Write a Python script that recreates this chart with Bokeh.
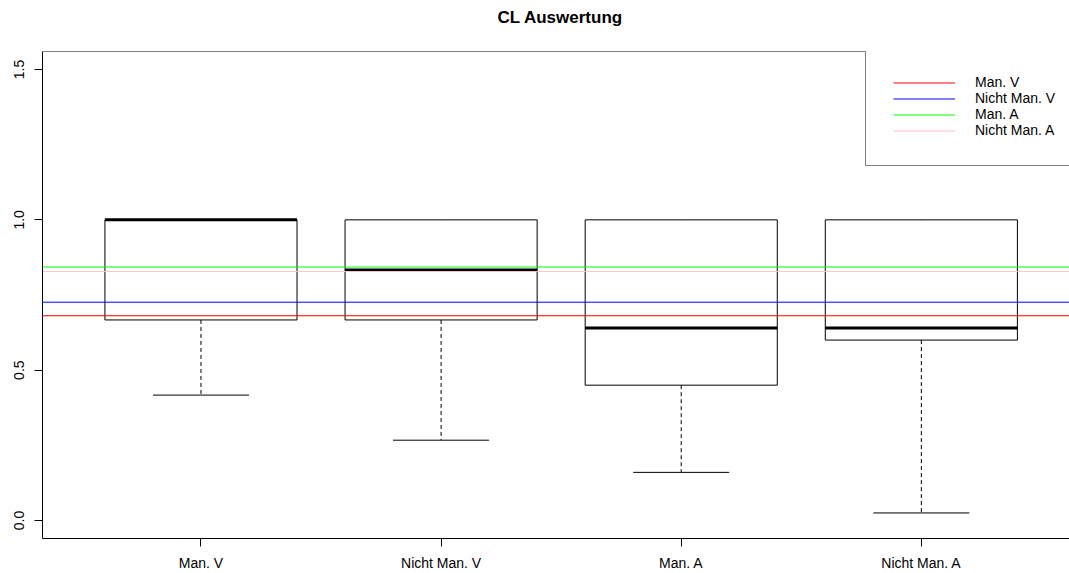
from bokeh.plotting import figure
from bokeh.models import FixedTicker, Span, Legend, LegendItem, NumeralTickFormatter, Title
from bokeh.embed import file_html
from bokeh.resources import INLINE

# ---- data ----
categories = ["Man. V", "Nicht Man. V", "Man. A", "Nicht Man. A"]
lower_whisker = [0.417, 0.267, 0.16, 0.025]
q1 = [0.667, 0.667, 0.45, 0.60]
median = [1.0, 0.833, 0.64, 0.64]
q3 = [1.0, 1.0, 1.0, 1.0]
upper_whisker = [1.0, 1.0, 1.0, 1.0]
mean_values = [0.681, 0.726, 0.843, 0.828]
mean_colors = ["#FF0000", "#0000FF", "#00FF00", "#FFC0CB"]
y_ticks = [0.0, 0.5, 1.0, 1.5]
title_text = "CL Auswertung"

FONT = "Liberation Sans"
X_START, X_END = 0.34, 4.617
pos = list(range(1, len(categories) + 1))
box_half = 0.4
cap_half = 0.2

p = figure(width=1069, height=573,
           x_range=(X_START, X_END), y_range=(-0.06, 1.56),
           output_backend="svg", toolbar_location=None,
           min_border_left=42, min_border_right=0,
           min_border_top=51, min_border_bottom=35)

p.xgrid.visible = False
p.ygrid.visible = False
p.outline_line_color = None
p.background_fill_color = "white"
p.border_fill_color = "white"

# real title (outermost slot)
p.title.text = title_text
p.title.align = "left"
p.title.offset = 455
p.title.vertical_align = "top"
p.title.standoff = 15
p.title.text_font = FONT
p.title.text_font_size = "17px"
p.title.text_font_style = "bold"
p.title.text_color = "black"
# spacer between title and frame
p.add_layout(Title(text=" ", text_font_size="1px", standoff=12), "above")

# top frame line
p.add_layout(Span(location=1.56, dimension="width", line_color="black", line_width=1))

# boxes
p.vbar(x=pos, width=2 * box_half, bottom=q1, top=q3,
       fill_color="white", line_color="black", line_width=1)
# whiskers
p.segment(x0=pos, y0=q1, x1=pos, y1=lower_whisker,
          line_color="black", line_width=1, line_dash="4 3")
p.segment(x0=pos, y0=q3, x1=pos, y1=upper_whisker,
          line_color="black", line_width=1, line_dash="4 3")
# lower caps
p.segment(x0=[x - cap_half for x in pos], y0=lower_whisker,
          x1=[x + cap_half for x in pos], y1=lower_whisker,
          line_color="black", line_width=1)
# medians
p.segment(x0=[x - box_half for x in pos], y0=median,
          x1=[x + box_half for x in pos], y1=median,
          line_color="black", line_width=3)

# mean lines (horizontal reference lines across the plot)
items = []
for cat, m, c in zip(categories, mean_values, mean_colors):
    r = p.segment(x0=[X_START], y0=[m], x1=[X_END], y1=[m],
                  line_color=c, line_width=1)
    items.append(LegendItem(label=cat, renderers=[r]))

legend = Legend(items=items, location=(823, 372), padding=27, spacing=0,
                label_height=15, glyph_height=15, glyph_width=62,
                label_standoff=20, border_line_color="black",
                border_line_width=1, background_fill_color="white",
                background_fill_alpha=1.0, margin=0,
                label_text_font=FONT, label_text_font_size="14px",
                label_text_line_height=1.1,
                label_text_color="black")
p.add_layout(legend)

# axes
p.xaxis.ticker = FixedTicker(ticks=pos)
p.xaxis.major_label_overrides = {x: c for x, c in zip(pos, categories)}
p.yaxis.ticker = FixedTicker(ticks=y_ticks)
p.yaxis.formatter = NumeralTickFormatter(format="0.0")
p.yaxis.major_label_orientation = "vertical"
for ax in (p.xaxis, p.yaxis):
    ax.axis_line_color = "black"
    ax.major_tick_line_color = "black"
    ax.minor_tick_line_color = None
    ax.major_tick_in = 0
    ax.major_tick_out = 8
    ax.major_label_text_font = FONT
    ax.major_label_text_font_size = "14px"
    ax.major_label_text_color = "black"
p.yaxis.major_label_standoff = 10
p.xaxis.major_label_standoff = 8

open("out.html", "w").write(file_html(p, INLINE))
